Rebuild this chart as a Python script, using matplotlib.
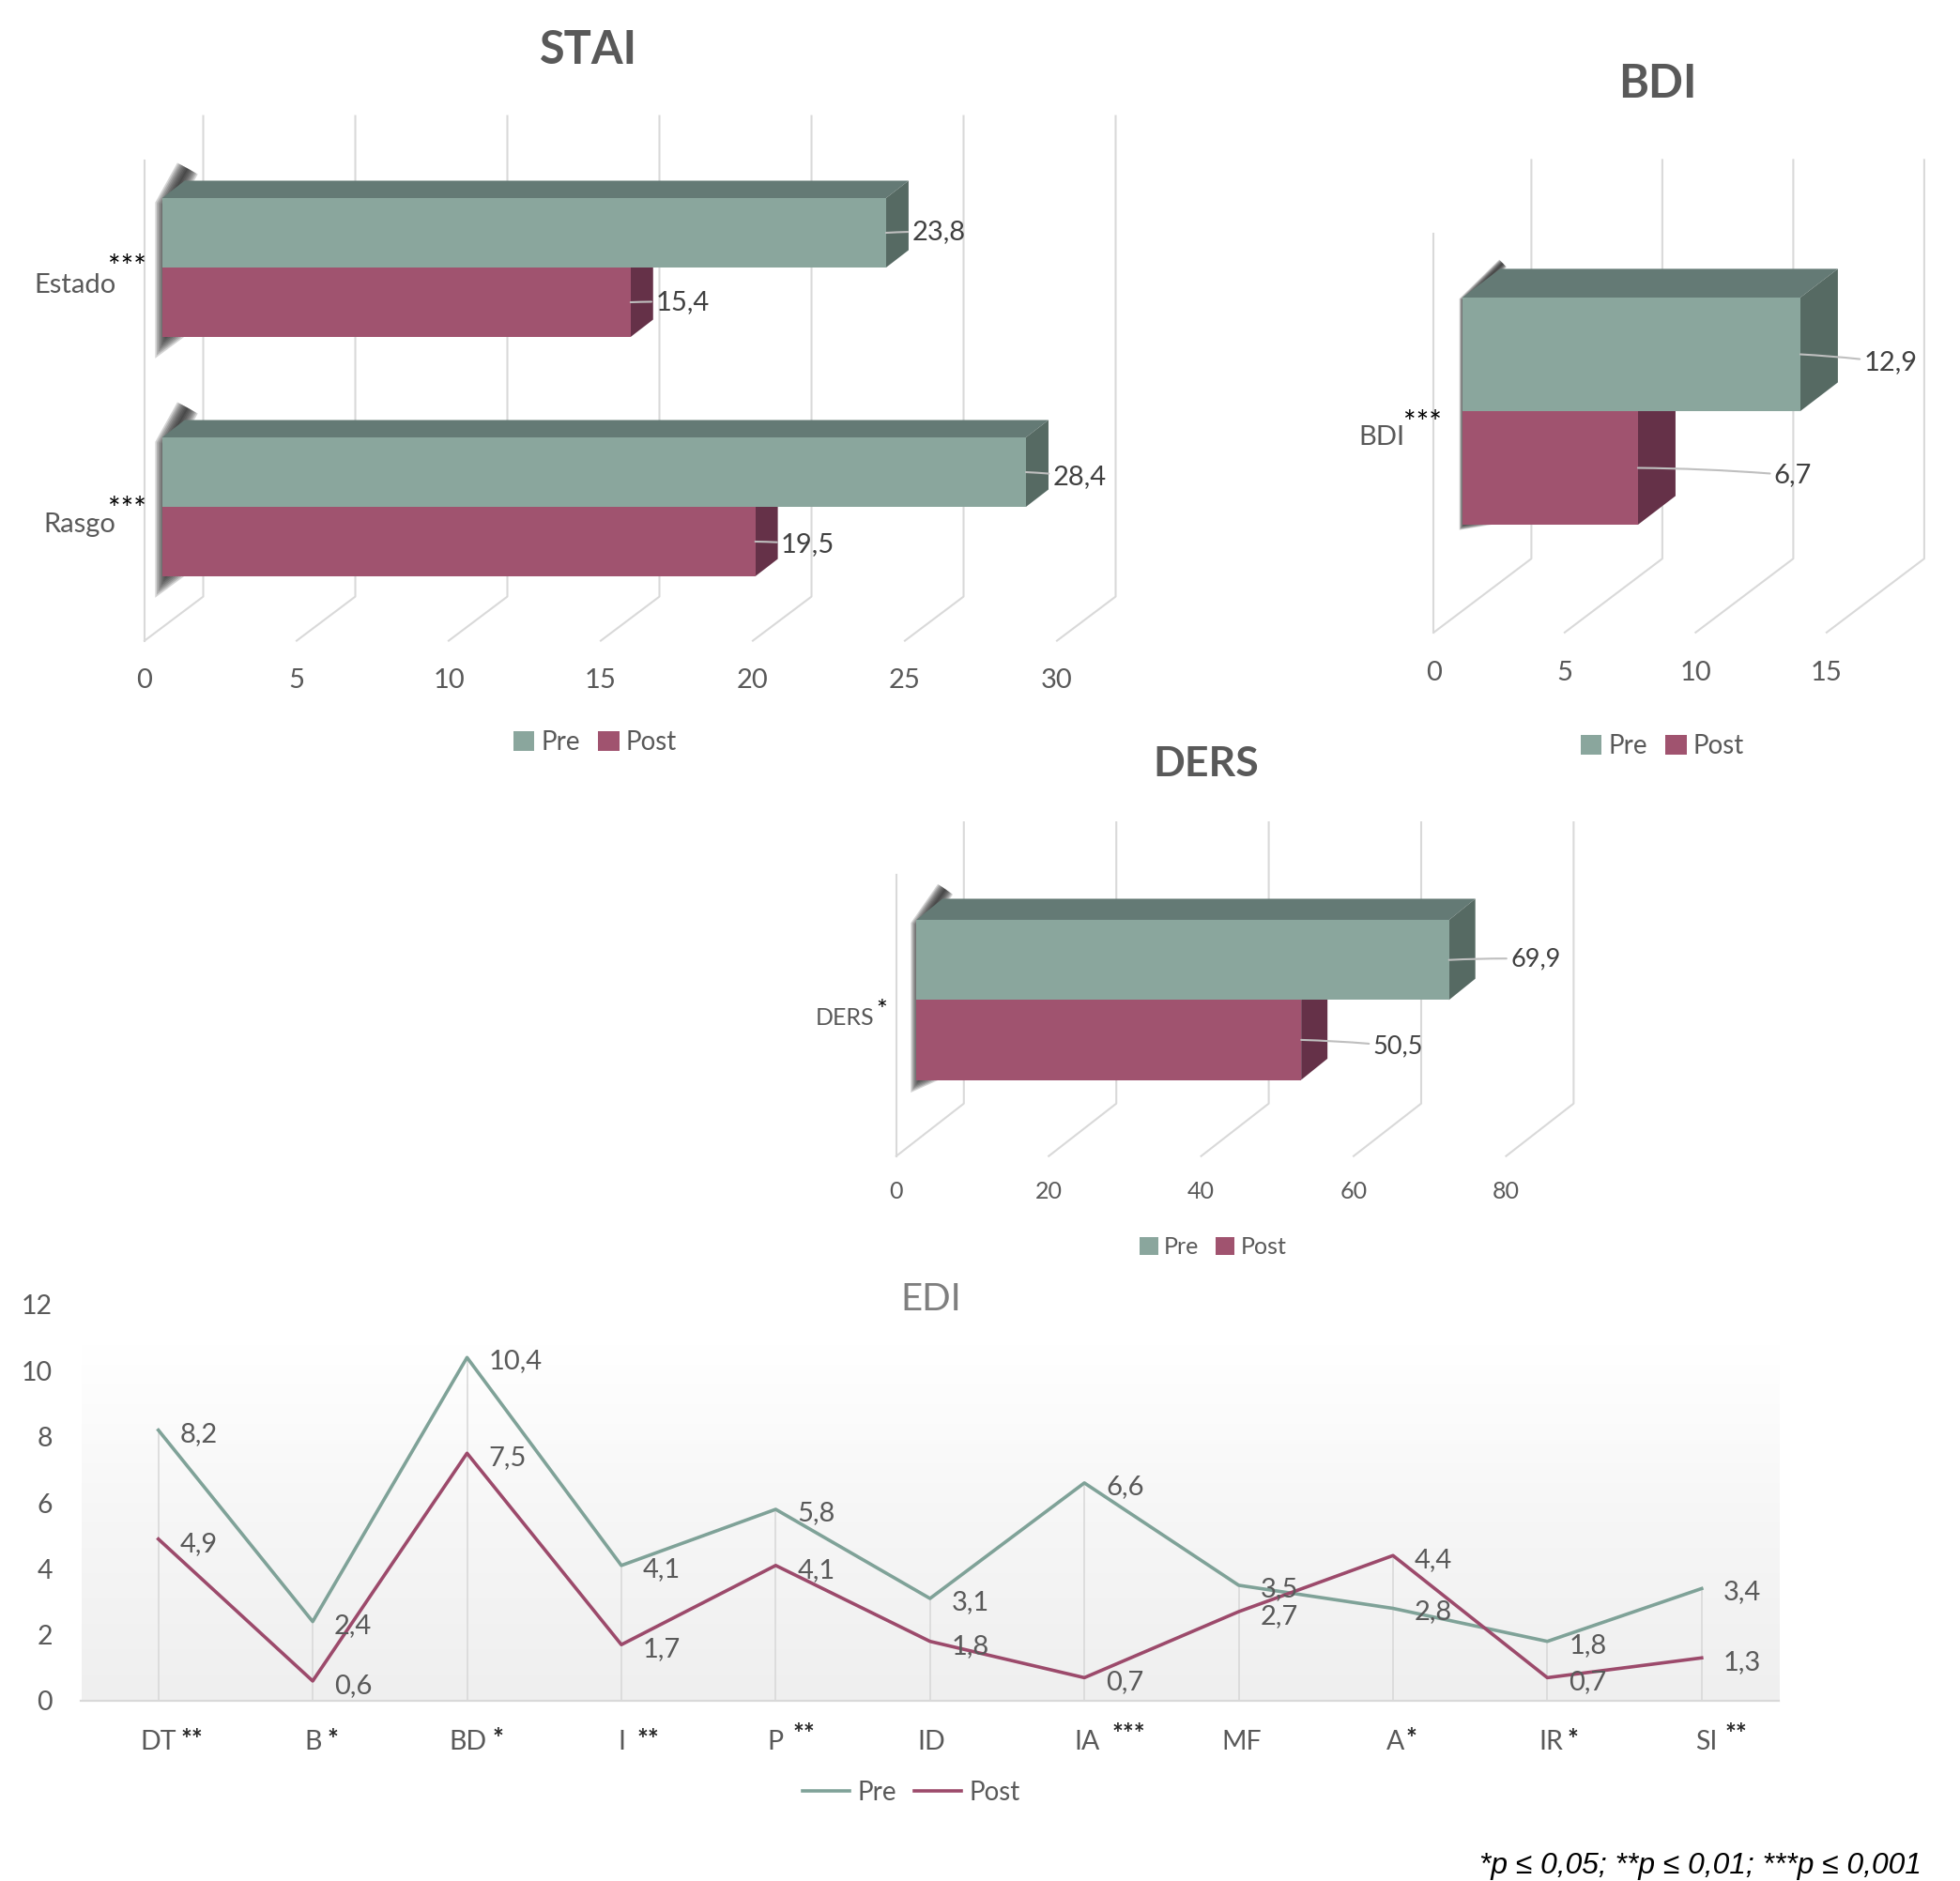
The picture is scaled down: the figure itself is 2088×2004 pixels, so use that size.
import numpy as np
import matplotlib
matplotlib.use('Agg')
import matplotlib.pyplot as plt
from matplotlib.colors import LinearSegmentedColormap
from matplotlib.lines import Line2D
from matplotlib.patches import Polygon
from matplotlib.transforms import ScaledTranslation

plt.rcParams['font.family'] = ['Lato', 'DejaVu Sans']

W, H = 2088, 2004
GREY = '#595959'

stai_labels = ['Estado', 'Rasgo']
stai_pre = [23.8, 28.4]
stai_post = [15.4, 19.5]
stai_ticks = [0, 5, 10, 15, 20, 25, 30]

bdi_labels = ['BDI']
bdi_pre = [12.9]
bdi_post = [6.7]
bdi_ticks = [0, 5, 10, 15]

ders_labels = ['DERS']
ders_pre = [69.9]
ders_post = [50.5]
ders_ticks = [0, 20, 40, 60, 80]

edi_labels = ['DT', 'B', 'BD', 'I', 'P', 'ID', 'IA', 'MF', 'A', 'IR', 'SI']
edi_stars = ['**', '*', '*', '**', '**', '', '***', '', '*', '*', '**']
edi_pre = [8.2, 2.4, 10.4, 4.1, 5.8, 3.1, 6.6, 3.5, 2.8, 1.8, 3.4]
edi_post = [4.9, 0.6, 7.5, 1.7, 4.1, 1.8, 0.7, 2.7, 4.4, 0.7, 1.3]

PRE, PRE_TOP, PRE_SIDE = '#8aa69d', '#647a75', '#566a63'
POST, POST_TOP, POST_SIDE = '#a0536f', '#7a3f55', '#653148'

fig = plt.figure(figsize=(W / 100, H / 100), dpi=100)


def comma(v):
    return f'{v:.1f}'.replace('.', ',')


def px_axes(left, top, right, bottom):
    return fig.add_axes([left / W, 1 - bottom / H, (right - left) / W, (bottom - top) / H])


def bar3d(ax, y, value, x0, h, dx, dy, colors):
    # front face plus the top and end faces of a box
    front, top, side = colors
    ax.add_patch(Polygon([(x0, y + h), (x0 + dx, y + h + dy), (x0 + value + dx, y + h + dy), (x0 + value, y + h)],
                         fc=top, ec='none', zorder=3, clip_on=False))
    ax.add_patch(Polygon([(x0 + value, y), (x0 + value + dx, y + dy), (x0 + value + dx, y + h + dy), (x0 + value, y + h)],
                         fc=side, ec='none', zorder=3, clip_on=False))
    return ax.barh(y + h / 2, value, height=h, left=x0, color=front, zorder=4)


def bar_panel(labels, pre, post, ticks, wall_x, floor, wall_h, unit, band, base_mid,
              bar_off, bar_h, bar_dx, bar_dy, wall_dx, wall_dy, shadow, fs, val_fs,
              label_shift, tick_pad, star_text, star_off, pre_off, post_off):
    xmax = ticks[-1]
    ax = px_axes(wall_x, floor - wall_h - wall_dy, wall_x + xmax * unit, floor)
    ux = lambda p: p / unit
    uy = lambda p: p / band
    ymin = uy(base_mid - floor)
    ymax = uy(base_mid - floor + wall_h + wall_dy)

    # side wall and floor lines behind the bars
    ax.plot([0, 0], [ymin, ymin + uy(wall_h)], color='#d9d9d9', lw=1.5, zorder=1, clip_on=False)
    for t in ticks:
        ax.plot([t, t + ux(wall_dx), t + ux(wall_dx)],
                [ymin, ymin + uy(wall_dy), ymin + uy(wall_dy + wall_h)],
                color='#d9d9d9', lw=1.5, zorder=1, clip_on=False)

    x0 = ux(bar_off)
    h = uy(bar_h)
    ys = list(range(len(labels)))[::-1]
    handles = None
    s = shadow / 18
    inset = ux(shadow * 0.28)
    for y, a, b in zip(ys, pre, post):
        # soft dark edge along the left end of each pair of bars
        sx = [x0 + ux(bar_dx + 3), x0 + inset, x0 + inset, x0 + ux(bar_dx)]
        sy = [y + h + uy(bar_dy + 13 * s), y + h - uy(8 * s), y - h + uy(2 * s), y - h + uy(16 * s)]
        for lw in np.linspace(1, shadow, 8):
            ax.plot(sx, sy, color='#262626', alpha=0.2, lw=lw, zorder=2, clip_on=False,
                    solid_capstyle='butt', solid_joinstyle='miter')
        p2 = bar3d(ax, y - h, b, x0, h, ux(bar_dx), uy(bar_dy), (POST, POST_TOP, POST_SIDE))
        p1 = bar3d(ax, y, a, x0, h, ux(bar_dx), uy(bar_dy), (PRE, PRE_TOP, PRE_SIDE))
        handles = [p1, p2]

    for i, y in enumerate(ys):
        ax.annotate(comma(pre[i]), xy=(x0 + pre[i], y + h * 0.5), xytext=pre_off[i],
                    textcoords='offset pixels', ha='center', va='center', fontsize=val_fs, color='#404040', zorder=6,
                    annotation_clip=False,
                    arrowprops=dict(arrowstyle='-', color='#bfbfbf', lw=1.5, shrinkA=1, shrinkB=0,
                                    connectionstyle='arc3,rad=0.02'))
        ax.annotate(comma(post[i]), xy=(x0 + post[i], y - h * 0.5), xytext=post_off[i],
                    textcoords='offset pixels', ha='center', va='center', fontsize=val_fs, color='#404040', zorder=6,
                    annotation_clip=False,
                    arrowprops=dict(arrowstyle='-', color='#bfbfbf', lw=1.5, shrinkA=1, shrinkB=0,
                                    connectionstyle='arc3,rad=0.02'))
        ax.annotate(star_text, xy=(0, y), xytext=star_off[i], textcoords='offset pixels', ha='center', va='center',
                    fontsize=fs + 2, color='black', zorder=6, annotation_clip=False)

    ax.set_xlim(0, xmax)
    ax.set_ylim(ymin, ymax)
    ax.set_xticks(ticks)
    ax.set_xticklabels([str(t) for t in ticks], color=GREY, fontsize=fs)
    ax.set_yticks(ys)
    ax.set_yticklabels(labels, color=GREY, fontsize=fs)
    ax.tick_params(axis='x', length=0, pad=tick_pad)
    ax.tick_params(axis='y', length=0, pad=label_shift[0])
    offset = ScaledTranslation(0, -label_shift[1] / 100, fig.dpi_scale_trans)
    for lab in ax.get_yticklabels():
        lab.set_transform(lab.get_transform() + offset)
    for sp in ax.spines.values():
        sp.set_visible(False)
    ax.patch.set_visible(False)
    return ax, handles


def bar_legend(ax, handles, cx, cy, fs):
    ax.legend(handles, ['Pre', 'Post'], ncol=2, loc='center', bbox_to_anchor=(cx / W, 1 - cy / H),
              bbox_transform=fig.transFigure, frameon=False, handlelength=0.8, handleheight=0.8,
              handletextpad=0.25, columnspacing=0.7, fontsize=fs, labelcolor=GREY, borderpad=0)


def title(text, cx, cy, size, bold=True, color=GREY):
    fig.text(cx / W, 1 - cy / H, text, ha='center', va='center', fontsize=size,
             fontweight='bold' if bold else 'normal', color=color)


# STAI
ax1, h1 = bar_panel(stai_labels, stai_pre, stai_post, stai_ticks, wall_x=154, floor=682.6, wall_h=512,
                    unit=32.4, band=255, base_mid=540, bar_off=18.8, bar_h=74, bar_dx=24, bar_dy=18.5,
                    wall_dx=62.5, wall_dy=47, shadow=18, fs=21, val_fs=21, label_shift=(22, 16), tick_pad=21,
                    star_text='***', star_off=[(-19, -1), (-19, -4)],
                    pre_off=[(56, 1), (57, -5)], post_off=[(55, 0), (56, -3)])
bar_legend(ax1, h1, 634, 791, 20)
title('STAI', 627, 54, 35)

# BDI
ax2, h2 = bar_panel(bdi_labels, bdi_pre, bdi_post, bdi_ticks, wall_x=1527.4, floor=673.8, wall_h=424.8,
                    unit=27.9, band=255, base_mid=438, bar_off=30.6, bar_h=121, bar_dx=40, bar_dy=30.6,
                    wall_dx=104, wall_dy=78.6, shadow=8, fs=21, val_fs=21, label_shift=(22, 25), tick_pad=22,
                    star_text='***', star_off=[(-12, -14)],
                    pre_off=[(96, -9), (0, 0)], post_off=[(165, -8), (0, 0)])
bar_legend(ax2, h2, 1771, 795, 20)
title('BDI', 1766, 90, 35)

# DERS
ax3, h3 = bar_panel(ders_labels, ders_pre, ders_post, ders_ticks, wall_x=954.8, floor=1231.7, wall_h=299.6,
                    unit=8.12, band=255, base_mid=1065.3, bar_off=21.3, bar_h=85.2, bar_dx=28, bar_dy=22.6,
                    wall_dx=72, wall_dy=56, shadow=14, fs=18, val_fs=19.5, label_shift=(17, 17), tick_pad=19,
                    star_text='*', star_off=[(-16, -13)],
                    pre_off=[(92, 1), (0, 0)], post_off=[(103, -7), (0, 0)])
bar_legend(ax3, h3, 1292, 1329, 18)
title('DERS', 1285, 814, 32)

# EDI line chart
ax4 = px_axes(86.5, 1390, 1895, 1812)
x = np.arange(len(edi_labels))
wash = LinearSegmentedColormap.from_list('wash', ['#efefef', '#f6f6f6', '#ffffff'])
ax4.imshow(np.linspace(0, 1, 256)[:, None], origin='lower', aspect='auto', cmap=wash,
           extent=(-0.5, 10.5, 0, 10.8), zorder=0)
ax4.vlines(x, 0, np.maximum(edi_pre, edi_post), color='#d9d9d9', lw=1.2, zorder=1)
ax4.plot(x, edi_pre, color='#7fa298', lw=2.6, zorder=3, label='Pre')
ax4.plot(x, edi_post, color='#9c4a6b', lw=2.6, zorder=3, label='Post')
for i in x:
    ax4.annotate(comma(edi_pre[i]), xy=(i, edi_pre[i]), xytext=(23, -4), textcoords='offset pixels',
                 ha='left', va='center', fontsize=21, color=GREY, zorder=4)
    ax4.annotate(comma(edi_post[i]), xy=(i, edi_post[i]), xytext=(23, -5), textcoords='offset pixels',
                 ha='left', va='center', fontsize=21, color=GREY, zorder=4)

star_offsets = [(36, -29), (21, -29), (33, -28), (28, -29), (30, -23), (0, 0), (47, -23), (0, 0), (19, -28), (27, -29), (37, -23)]
for i, s in enumerate(edi_stars):
    if s:
        ax4.annotate(s, xy=(i, 0), xytext=star_offsets[i], textcoords='offset pixels', ha='center', va='top',
                     fontsize=20, fontweight='bold', color='#262626', annotation_clip=False)

ax4.set_xlim(-0.5, 10.5)
ax4.set_ylim(0, 12)
ax4.set_xticks(x)
ax4.set_xticklabels(edi_labels, color=GREY, fontsize=20.5)
ax4.set_yticks(range(0, 13, 2))
ax4.set_yticklabels([str(v) for v in range(0, 13, 2)], color=GREY, fontsize=20.5)
ax4.tick_params(axis='x', length=0, pad=22)
ax4.tick_params(axis='y', length=0, pad=22)
# category names sit a little right of their tick towards the right-hand end
label_nudge = [0, 0, 1, 0, 0, 1, 3, 3, 3, 4, 5]
for lab, n in zip(ax4.get_xticklabels(), label_nudge):
    lab.set_transform(lab.get_transform() + ScaledTranslation(n / 100, 0, fig.dpi_scale_trans))
for name in ['top', 'left', 'right']:
    ax4.spines[name].set_visible(False)
ax4.spines['bottom'].set_color('#d9d9d9')
ax4.spines['bottom'].set_linewidth(1.6)
ax4.patch.set_visible(False)
ax4.legend(handles=[Line2D([], [], color='#7fa298', lw=2.6), Line2D([], [], color='#9c4a6b', lw=2.6)],
           labels=['Pre', 'Post'], ncol=2, loc='center', bbox_to_anchor=(971 / W, 1 - 1910 / H),
           bbox_transform=fig.transFigure, frameon=False, handlelength=1.8, handletextpad=0.3,
           columnspacing=0.7, fontsize=20, labelcolor=GREY, borderpad=0)
title('EDI', 992, 1384, 29, bold=False, color='#7f7f7f')

fig.text(2047 / W, 1 - 1988 / H, '*p ≤ 0,05; **p ≤ 0,01; ***p ≤ 0,001', ha='right', va='center',
         fontsize=22.9, style='italic', family=['Liberation Sans', 'DejaVu Sans'], color='black')

fig.savefig('out.png', dpi=100)
